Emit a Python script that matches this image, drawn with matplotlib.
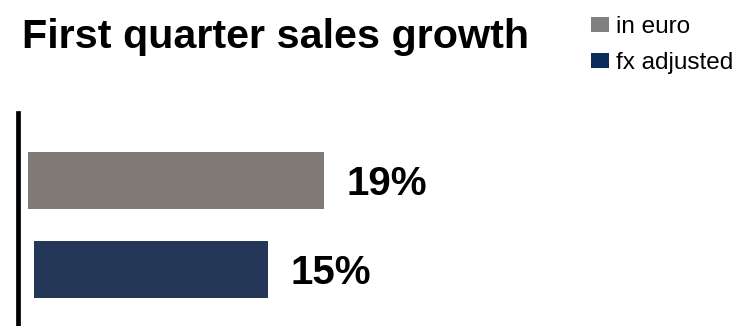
import matplotlib
matplotlib.use("Agg")
import matplotlib.pyplot as plt
from matplotlib.patches import Patch

# Sales growth, first quarter
series = ["in euro", "fx adjusted"]
growth_pct = [19, 15]
value_labels = ["19%", "15%"]

bar_colors = ["#7f7a75", "#253758"]
legend_colors = ["#808080", "#0c2c5c"]
bar_indent = [0.0, 0.4]  # small left inset of the second bar

plt.rcParams["font.family"] = ["Liberation Sans", "DejaVu Sans"]

fig = plt.figure(figsize=(7.49, 3.26), dpi=100)
ax = fig.add_axes([18 / 749, 0.0, 1 - 18 / 749, (326 - 113) / 326])

ypos = list(range(len(series)))
bars = ax.barh(ypos, growth_pct, left=bar_indent, height=0.64,
               color=bar_colors, edgecolor="none")

for b, lab in zip(bars, value_labels):
    ax.annotate(lab, xy=(b.get_x() + b.get_width(), b.get_y() + b.get_height() / 2),
                xytext=(16, 0), textcoords="offset points",
                ha="left", va="center_baseline",
                fontsize=29, fontweight="bold", color="black")

ax.set_xlim(-0.642, -0.642 + 731 / 15.58)
ax.set_ylim(1.635, -0.758)

for side in ("top", "right", "bottom"):
    ax.spines[side].set_visible(False)
ax.spines["left"].set_linewidth(3.4)
ax.spines["left"].set_color("black")
ax.set_xticks([])
ax.set_yticks([])
ax.patch.set_visible(False)

fig.text(22 / 749, 1 - 48 / 326, "First quarter sales growth",
         fontsize=29.7, fontweight="bold", ha="left", va="baseline")

handles = [Patch(facecolor=c, edgecolor="none") for c in legend_colors]
fig.legend(handles, series, loc="upper left", bbox_to_anchor=(586 / 749, 1 - 11 / 326),
           frameon=False, fontsize=17.5, handlelength=0.75, handleheight=0.6,
           handletextpad=0.3, labelspacing=0.58, borderpad=0.2, borderaxespad=0)

fig.savefig("out.png", dpi=100)
